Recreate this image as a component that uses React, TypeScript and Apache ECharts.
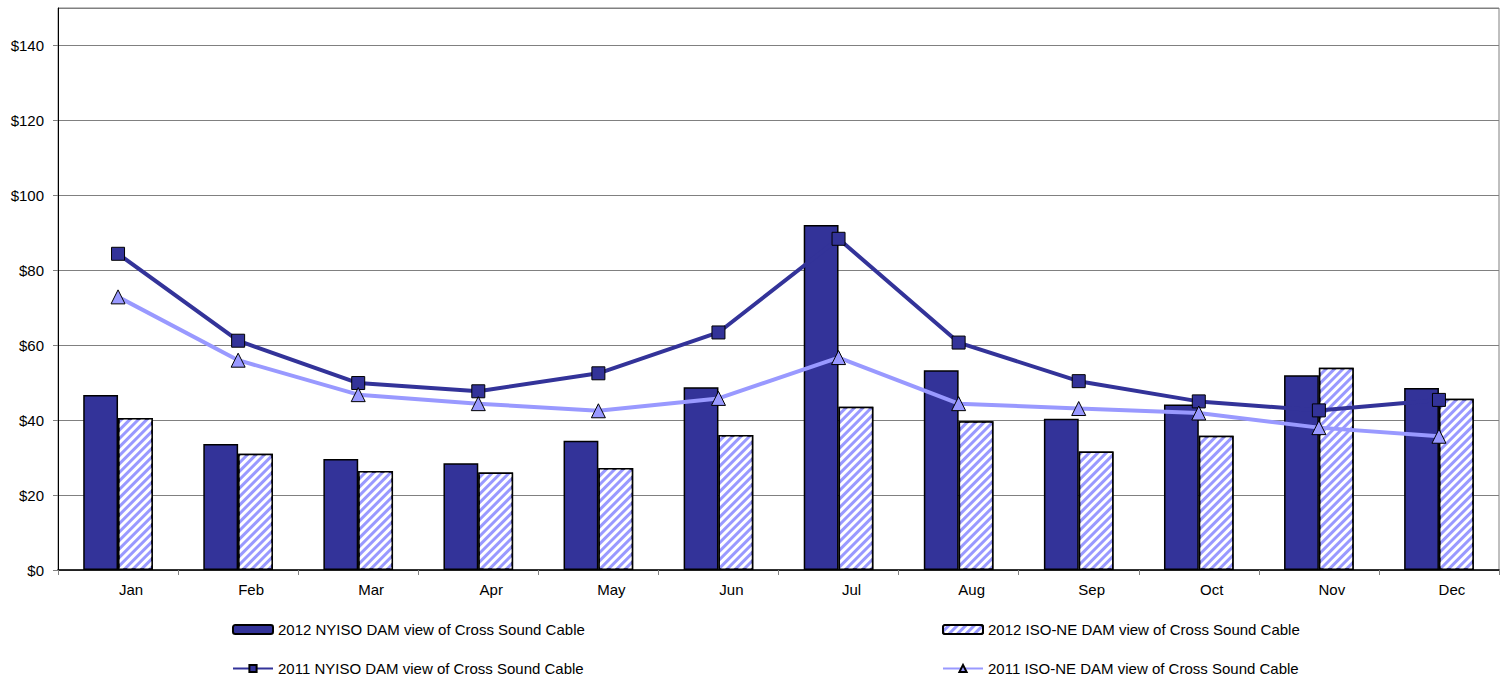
import React, { useEffect, useRef } from "react";
import * as echarts from "echarts";

const categories = ["Jan", "Feb", "Mar", "Apr", "May", "Jun", "Jul", "Aug", "Sep", "Oct", "Nov", "Dec"];
const nyiso2012 = [46.7, 33.6, 29.6, 28.5, 34.5, 48.8, 92.1, 53.3, 40.4, 44.2, 52.0, 48.6];
const isone2012 = [40.6, 31.0, 26.4, 26.0, 27.2, 36.0, 43.6, 39.7, 31.6, 35.8, 54.0, 45.7];
const nyiso2011 = [84.4, 61.2, 49.9, 47.7, 52.5, 63.4, 88.4, 60.7, 50.4, 45.0, 42.6, 45.4];
const isone2011 = [72.9, 56.0, 46.8, 44.4, 42.5, 45.8, 56.7, 44.4, 43.1, 41.9, 38.0, 35.7];

const seriesNames = [
  "2012 NYISO DAM view of Cross Sound Cable",
  "2012 ISO-NE DAM view of Cross Sound Cable",
  "2011 NYISO DAM view of Cross Sound Cable",
  "2011 ISO-NE DAM view of Cross Sound Cable",
];

const FONT = "'Liberation Sans', Arial, sans-serif";
const DARK = "#333399";
const LIGHT = "#9999FF";

export default function App() {
  const ref = useRef<HTMLDivElement>(null);
  useEffect(() => {
    if (!ref.current) return;
    const chart = echarts.init(ref.current, undefined, { renderer: "svg" });
    const legendBase = {
      orient: "horizontal",
      padding: 0,
      itemWidth: 40,
      itemHeight: 9,
      itemGap: 5,
      textStyle: { fontFamily: FONT, fontSize: 15, color: "#000" },
      selectedMode: false,
    };
    chart.setOption({
      animation: false,
      backgroundColor: "#ffffff",
      textStyle: { fontFamily: FONT },
      grid: {
        left: 58,
        right: 8,
        top: 8,
        bottom: 130,
        show: true,
        borderColor: "#808080",
        borderWidth: 1,
        backgroundColor: "transparent",
      },
      legend: [
        { ...legendBase, left: 232, top: 622, data: [seriesNames[0]] },
        { ...legendBase, left: 942, top: 622, data: [seriesNames[1]] },
        { ...legendBase, left: 232, top: 661, data: [seriesNames[2]] },
        { ...legendBase, left: 942, top: 661, data: [seriesNames[3]] },
      ],
      xAxis: {
        type: "category",
        data: categories,
        boundaryGap: true,
        axisLine: { lineStyle: { color: "#000", width: 1.5 } },
        axisTick: { show: true, length: 5, lineStyle: { color: "#808080" } },
        axisLabel: {
          fontFamily: FONT,
          fontSize: 15,
          color: "#000",
          margin: 12,
          padding: [0, 0, 0, 26],
        },
        splitLine: { show: false },
      },
      yAxis: {
        type: "value",
        min: 0,
        max: 150,
        interval: 20,
        axisLine: { show: true, lineStyle: { color: "#000", width: 1 } },
        axisTick: { show: true, length: 5, lineStyle: { color: "#808080" } },
        axisLabel: {
          fontFamily: FONT,
          fontSize: 15,
          color: "#000",
          margin: 14,
          showMaxLabel: false,
          formatter: (v: number) => (v > 140 ? "" : "$" + v),
        },
        splitLine: { show: true, lineStyle: { color: "#808080", width: 1 } },
      },
      series: [
        {
          name: seriesNames[0],
          type: "bar",
          data: nyiso2012,
          barGap: "0%",
          barCategoryGap: "42%",
          itemStyle: { color: DARK, borderColor: "#000", borderWidth: 1.5 },
        },
        {
          name: seriesNames[1],
          type: "bar",
          data: isone2012,
          barGap: "0%",
          barCategoryGap: "42%",
          itemStyle: {
            color: LIGHT,
            borderColor: "#000",
            borderWidth: 1.5,
            decal: {
              symbol: "rect",
              symbolSize: 1,
              color: "#ffffff",
              dashArrayX: [1, 0],
              dashArrayY: [2.5, 3],
              rotation: -Math.PI / 4,
            },
          },
        },
        {
          name: seriesNames[2],
          type: "line",
          data: nyiso2011,
          symbol: "rect",
          symbolSize: 13,
          lineStyle: { color: DARK, width: 4 },
          itemStyle: { color: DARK, borderColor: "#000", borderWidth: 1 },
          z: 3,
        },
        {
          name: seriesNames[3],
          type: "line",
          data: isone2011,
          symbol: "triangle",
          symbolSize: 14,
          lineStyle: { color: LIGHT, width: 4 },
          itemStyle: { color: LIGHT, borderColor: "#000", borderWidth: 1 },
          z: 3,
        },
      ],
    });
    return () => chart.dispose();
  }, []);
  return (
    <div
      ref={ref}
      style={{ position: "fixed", left: 0, top: 0, width: 1507, height: 700, background: "#fff" }}
    />
  );
}
